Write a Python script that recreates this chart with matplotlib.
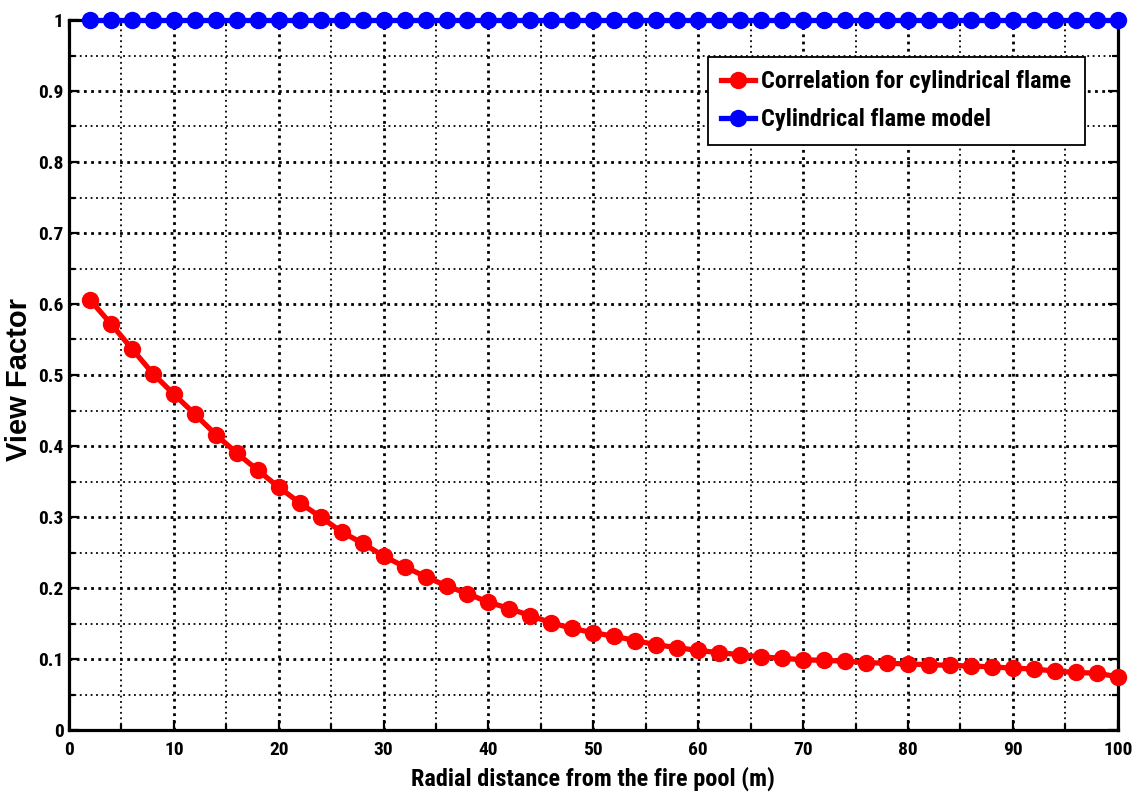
import matplotlib
matplotlib.use("Agg")
import matplotlib.pyplot as plt
from matplotlib import font_manager
import numpy as np

names = {f.name for f in font_manager.fontManager.ttflist}
fam = 'DejaVu Sans'
for cand in ['Nimbus Sans Narrow', 'Liberation Sans Narrow', 'Arial Narrow', 'Roboto Condensed',
             'Archivo Narrow', 'PT Sans Narrow', 'Liberation Sans']:
    if cand in names:
        fam = cand
        break
wide = 'Liberation Sans' if 'Liberation Sans' in names else 'DejaVu Sans'
plt.rcParams['font.family'] = [fam, 'DejaVu Sans']

distance = list(range(2, 101, 2))
correlation = [0.606, 0.572, 0.537, 0.502, 0.473, 0.445, 0.416, 0.390, 0.366, 0.342,
               0.320, 0.300, 0.279, 0.263, 0.245, 0.230, 0.216, 0.203, 0.192, 0.180,
               0.171, 0.161, 0.151, 0.143, 0.137, 0.132, 0.126, 0.120, 0.116, 0.112,
               0.109, 0.106, 0.103, 0.101, 0.099, 0.098, 0.097, 0.095, 0.094, 0.093,
               0.092, 0.091, 0.090, 0.089, 0.087, 0.086, 0.083, 0.081, 0.080, 0.075]
cyl_model = [1.0] * len(distance)
xticks = list(range(0, 101, 10))
yticks = [0, 0.1, 0.2, 0.3, 0.4, 0.5, 0.6, 0.7, 0.8, 0.9, 1.0]
ytick_labels = ["0", "0.1", "0.2", "0.3", "0.4", "0.5", "0.6", "0.7", "0.8", "0.9", "1"]

fig = plt.figure(figsize=(11.44, 8.0), dpi=100)
ax = fig.add_axes([0.0603, 0.0875, 0.9167, 0.8875])

ax.plot(distance, correlation, color='#ff0000', lw=3.8, marker='o', ms=11.5,
        label='Correlation for cylindrical flame', clip_on=False, zorder=5)
ax.plot(distance, cyl_model, color='#0000ff', lw=3.8, marker='o', ms=11.5,
        label='Cylindrical flame model', clip_on=False, zorder=5)

ax.set_xlim(0, 100)
ax.set_ylim(0, 1)
ax.set_xticks(xticks)
ax.set_yticks(yticks)
ax.set_yticklabels(ytick_labels)
ax.set_xticks(np.arange(0, 101, 5), minor=True)
ax.set_yticks(np.arange(0, 1.001, 0.05), minor=True)
ax.grid(which='major', color='black', linestyle=(0, (1, 1.6)), linewidth=2.0)
ax.grid(which='minor', color='black', linestyle=(0, (1, 2)), linewidth=1.3)
ax.tick_params(which='both', direction='in', top=True, right=True, width=1.6)
ax.tick_params(which='major', length=7, labelsize=14)
ax.tick_params(axis='x', which='major', pad=8)
ax.tick_params(axis='y', which='major', pad=4)
ax.tick_params(which='minor', length=4)
for lab in ax.get_xticklabels() + ax.get_yticklabels():
    lab.set_fontweight('bold')
for s in ax.spines.values():
    s.set_linewidth(2.3)

ax.set_xlabel('Radial distance from the fire pool (m)', fontsize=17.5, fontweight='bold')
ax.xaxis.set_label_coords(0.5, -0.052)
ax.set_ylabel('View Factor', fontsize=21, fontweight='bold', family=[wide, 'DejaVu Sans'])
ax.yaxis.set_label_coords(-0.034, 0.493)

leg = ax.legend(loc='upper right', bbox_to_anchor=(0.9686, 0.948), borderaxespad=0,
                prop={'weight': 'bold', 'size': 17.5, 'family': [fam, 'DejaVu Sans']},
                frameon=True, fancybox=False, edgecolor='black', framealpha=1,
                handlelength=1.4, borderpad=0.55, labelspacing=0.62,
                handletextpad=0.25)
leg.get_frame().set_linewidth(1.3)

fig.savefig('out.png', dpi=100)
